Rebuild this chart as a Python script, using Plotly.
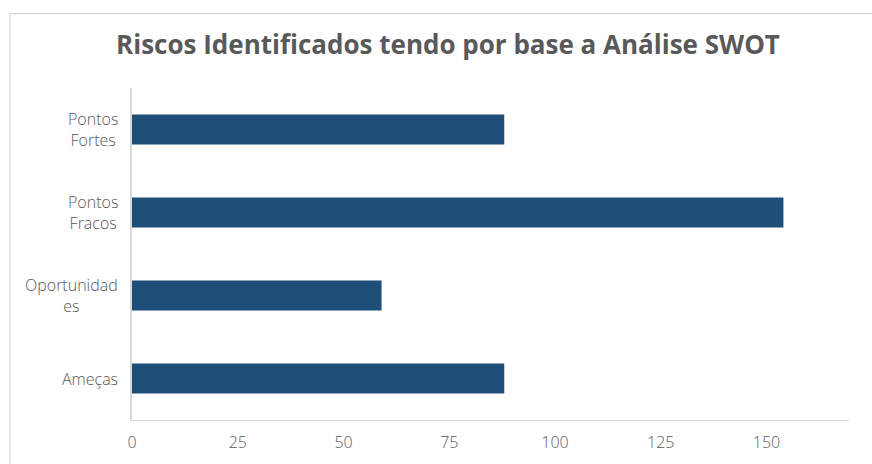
import plotly.graph_objects as go

categories = ["Pontos Fortes", "Pontos Fracos", "Oportunidades", "Ameças"]
display_labels = ["Pontos<br>Fortes", "Pontos<br>Fracos", "Oportunidad<br>es", "Ameças"]
values = [88, 154, 59, 88]
tick_vals = [0, 25, 50, 75, 100, 125, 150]

W, H = 872, 464
L, R, T, B = 132, 23, 87.5, 44
pw, ph = W - L - R, H - T - B

fig = go.Figure(go.Bar(
    y=categories, x=values, orientation="h",
    marker=dict(color="#1f4e79", line=dict(width=0)),
    width=0.36,
))

for cat, lab in zip(categories, display_labels):
    fig.add_annotation(
        x=0, xref="paper", y=cat, yref="y", text=lab, showarrow=False,
        xanchor="right", align="center", xshift=-12,
        font=dict(family="Open Sans", size=16, color="#595959", weight=300),
    )

fig.add_shape(
    type="rect", xref="paper", yref="paper",
    x0=(10 - L) / pw, x1=(W + 20 - L) / pw,
    y0=-(B + 20) / ph, y1=(H - B - 13) / ph,
    line=dict(color="#d9d9d9", width=1.2), fillcolor="rgba(0,0,0,0)", layer="below",
)

fig.update_layout(
    width=W, height=H,
    margin=dict(l=L, r=R, t=T, b=B),
    paper_bgcolor="white", plot_bgcolor="white",
    showlegend=False,
    title=dict(
        text="Riscos Identificados tendo por base a Análise SWOT",
        x=448 / W, xanchor="center", y=1 - 45 / H, yanchor="middle",
        font=dict(family="Open Sans", size=26, color="#595959", weight=700),
    ),
    xaxis=dict(
        range=[0, 169.5], tickvals=tick_vals, showgrid=False, zeroline=False,
        showline=True, linecolor="#d9d9d9", linewidth=1,
        ticks="", ticklabelstandoff=8,
        tickfont=dict(family="Open Sans", size=16, color="#595959", weight=300),
        fixedrange=True,
    ),
    yaxis=dict(
        autorange="reversed", showticklabels=False, showgrid=False, zeroline=False,
        showline=True, linecolor="#d9d9d9", linewidth=2, ticks="",
    ),
)

fig.write_html("out.html")
